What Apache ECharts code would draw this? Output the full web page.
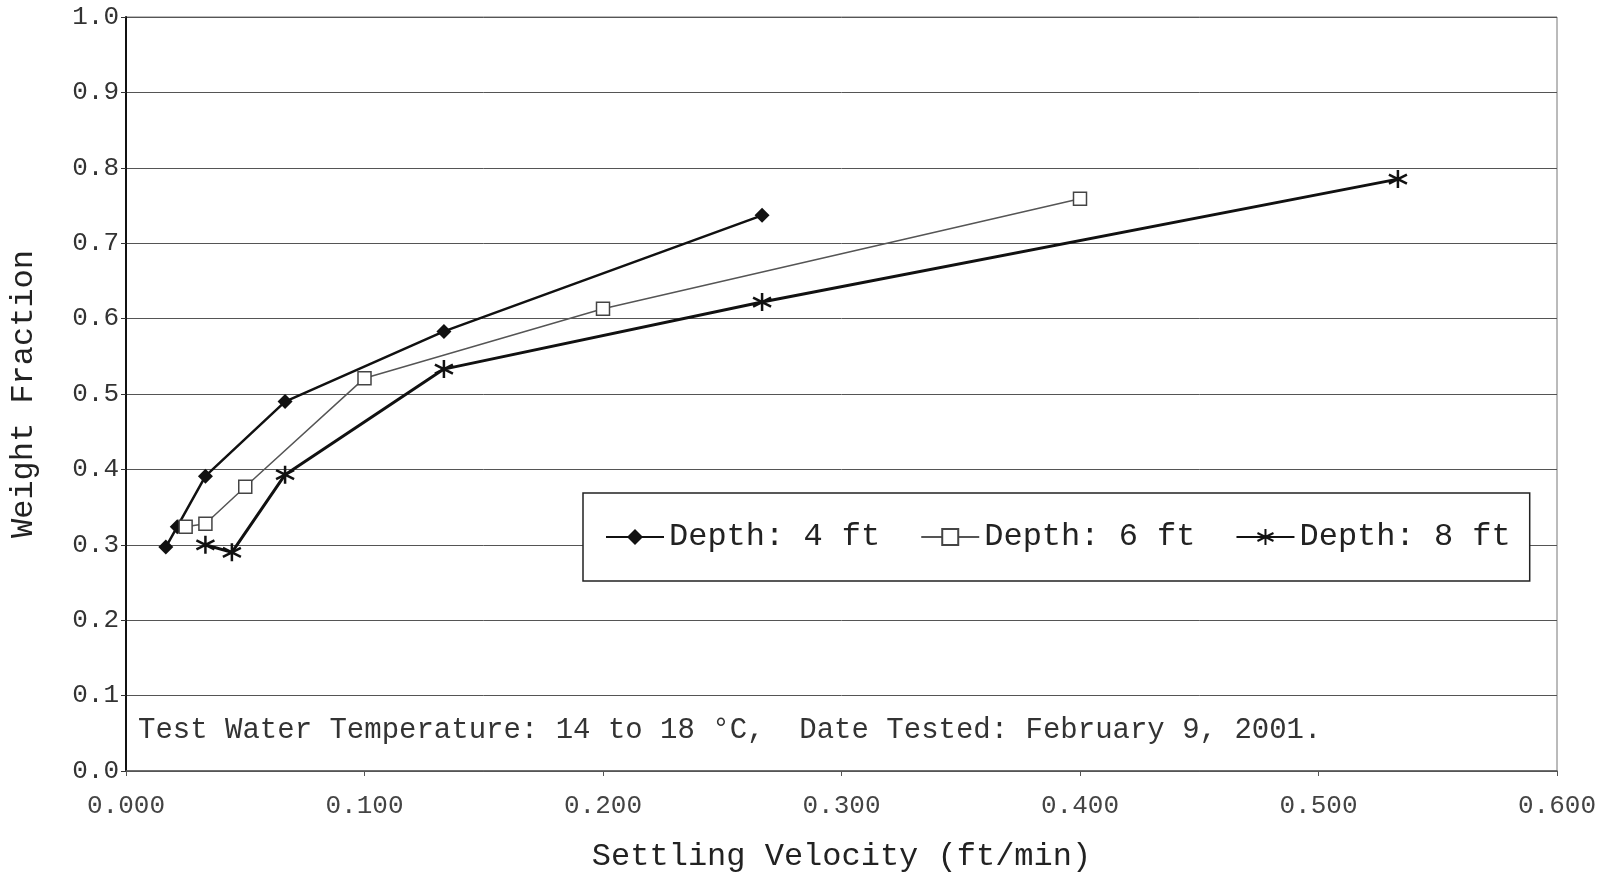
<!DOCTYPE html>
<html>
<head>
<meta charset="utf-8">
<script src="https://cdn.jsdelivr.net/npm/echarts@6/dist/echarts.min.js"></script>
<style>
html,body{margin:0;padding:0;background:#fff;}
#c{width:1608px;height:878px;}
</style>
</head>
<body>
<div id="c"></div>
<script>
const seriesNames = ['Depth: 4 ft', 'Depth: 6 ft', 'Depth: 8 ft'];
const velocity4 = [0.0167, 0.0215, 0.0333, 0.0667, 0.1333, 0.2667];
const fraction4 = [0.297, 0.324, 0.391, 0.490, 0.583, 0.737];
const velocity6 = [0.025, 0.0333, 0.05, 0.1, 0.2, 0.4];
const fraction6 = [0.324, 0.328, 0.377, 0.521, 0.613, 0.759];
const velocity8 = [0.0333, 0.0444, 0.0667, 0.1333, 0.2667, 0.5333];
const fraction8 = [0.300, 0.290, 0.393, 0.533, 0.622, 0.785];
const xTicks = [0, 0.1, 0.2, 0.3, 0.4, 0.5, 0.6];
const yTicks = [0, 0.1, 0.2, 0.3, 0.4, 0.5, 0.6, 0.7, 0.8, 0.9, 1.0];
const xTitle = 'Settling Velocity (ft/min)';
const yTitle = 'Weight Fraction';
const note = 'Test Water Temperature: 14 to 18 \u00B0C,  Date Tested: February 9, 2001.';

const pairs = (xs, ys) => xs.map((x, i) => [x, ys[i]]);
const mono = '"Liberation Mono", "DejaVu Sans Mono", monospace';
const asterisk = 'path://M10,0 L10,20 M1.5,5 L18.5,15 M1.5,15 L18.5,5';

const chart = echarts.init(document.getElementById('c'));
chart.setOption({
  animation: false,
  backgroundColor: '#fff',
  grid: {
    left: 126, right: 51, top: 17, bottom: 106,
    show: true, borderColor: '#777', borderWidth: 1
  },
  xAxis: {
    type: 'value',
    min: xTicks[0], max: xTicks[xTicks.length - 1], interval: 0.1,
    name: xTitle, nameLocation: 'middle', nameGap: 70,
    nameTextStyle: { fontFamily: mono, fontSize: 32, color: '#222' },
    axisLine: { show: true, lineStyle: { color: '#555', width: 1.5 } },
    axisTick: { show: true, length: 5, lineStyle: { color: '#555' } },
    axisLabel: {
      fontFamily: mono, fontSize: 26, color: '#444', margin: 22,
      formatter: v => v.toFixed(3)
    },
    splitLine: { show: false }
  },
  yAxis: {
    type: 'value',
    min: yTicks[0], max: yTicks[yTicks.length - 1], interval: 0.1,
    name: yTitle, nameLocation: 'middle', nameGap: 86, nameRotate: 90,
    nameTextStyle: { fontFamily: mono, fontSize: 32, color: '#222' },
    axisLine: { show: true, lineStyle: { color: '#111', width: 2 } },
    axisTick: { show: true, length: 5, lineStyle: { color: '#333' } },
    axisLabel: {
      fontFamily: mono, fontSize: 26, color: '#333', margin: 7,
      formatter: v => v.toFixed(1)
    },
    splitLine: { show: true, lineStyle: { color: '#555', width: 1 } }
  },
  legend: {
    left: 583, top: 493,
    orient: 'horizontal',
    padding: [28, 19, 28, 22],
    itemGap: 40, itemWidth: 58, itemHeight: 20,
    borderColor: '#222', borderWidth: 1.5, backgroundColor: '#fff',
    textStyle: { fontFamily: mono, fontSize: 32, color: '#222' },
    data: seriesNames
  },
  graphic: [{
    type: 'text', left: 138, top: 716,
    style: { text: note, font: '29px ' + mono, fill: '#333' }
  }],
  series: [
    {
      name: seriesNames[0], type: 'line', data: pairs(velocity4, fraction4),
      symbol: 'diamond', symbolSize: 15,
      lineStyle: { color: '#111', width: 2.5 },
      itemStyle: { color: '#111' }
    },
    {
      name: seriesNames[1], type: 'line', data: pairs(velocity6, fraction6),
      symbol: 'rect', symbolSize: 13,
      lineStyle: { color: '#555', width: 1.5 },
      itemStyle: { color: '#fff', borderColor: '#444', borderWidth: 1.5 }
    },
    {
      name: seriesNames[2], type: 'line', data: pairs(velocity8, fraction8),
      symbol: asterisk, symbolSize: 18,
      lineStyle: { color: '#111', width: 3 },
      itemStyle: { color: '#111', borderColor: '#111', borderWidth: 2.5 }
    }
  ]
});
</script>
</body>
</html>
